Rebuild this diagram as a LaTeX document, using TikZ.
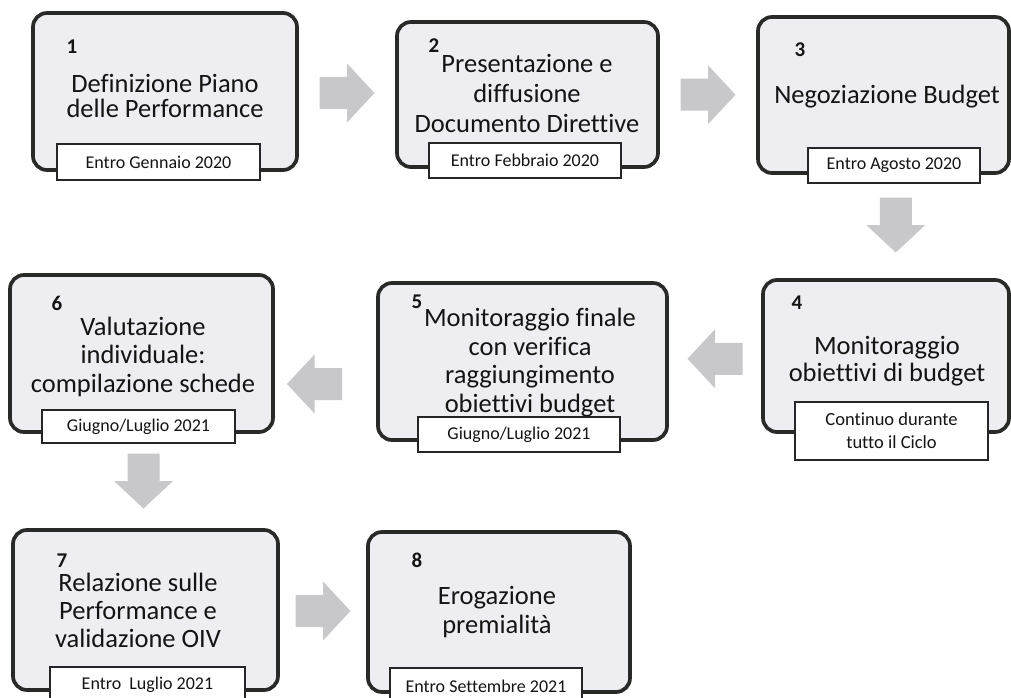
\documentclass[tikz,border=0pt]{standalone}
\usepackage{fontspec}
\setmainfont{Carlito}[Ligatures=NoCommon]
\usetikzlibrary{calc}
\definecolor{boxfill}{RGB}{238,238,242}
\definecolor{boxline}{RGB}{40,42,40}
\definecolor{arrowfill}{RGB}{200,200,203}
\definecolor{txt}{RGB}{20,20,20}
\tikzset{
  stage/.style={draw=boxline, line width=3.7pt, fill=boxfill, rounded corners=14pt, inner sep=0pt},
  datebox/.style={draw=black!85, line width=1.3pt, fill=white, inner sep=0pt, align=center,
    font=\fontsize{18}{21}\selectfont, text=txt},
  maintext/.style={align=center, inner sep=0pt, text=txt},
  stepnum/.style={font=\bfseries\fontsize{21}{21}\selectfont, text=txt, inner sep=0pt},
  pics/blockarrow/.style={code={
    \fill[arrowfill] (-27.5,-16)--(0,-16)--(0,-29.5)--(27.5,0)--(0,29.5)--(0,16)--(-27.5,16)--cycle;}}
}
\begin{document}
\begin{tikzpicture}[x=1pt,y=1pt]
\fill[white] (0,0) rectangle (1011,-698);
\useasboundingbox (0,0) rectangle (1011,-698);
\clip (0,0) rectangle (1011,-698);

% stage boxes
\node[stage, minimum width=264pt, minimum height=157pt] (b1) at (165,-91.5) {};
\node[stage, minimum width=261pt, minimum height=145pt] (b2) at (527.5,-94.5) {};
\node[stage, minimum width=251pt, minimum height=156pt] (b3) at (883.5,-95) {};
\node[stage, minimum width=246pt, minimum height=152pt] (b4) at (886,-356) {};
\node[stage, minimum width=289pt, minimum height=157pt] (b5) at (522.5,-361.5) {};
\node[stage, minimum width=263pt, minimum height=157pt] (b6) at (141.5,-353.5) {};
\node[stage, minimum width=265pt, minimum height=160pt] (b7) at (145.5,-610) {};
\node[stage, minimum width=262pt, minimum height=160pt] (b8) at (499,-612) {};

% step numbers
\node[stepnum] (n1) at (72,-47) {1};
\node[stepnum] (n2) at (434,-46) {2};
\node[stepnum] (n3) at (800,-50) {3};
\node[stepnum] (n4) at (797,-303) {4};
\node[stepnum] (n5) at (417,-302) {5};
\node[stepnum] (n6) at (57,-303) {6};
\node[stepnum] (n7) at (62,-561) {7};
\node[stepnum] (n8) at (417,-560) {8};

% main texts
\node[maintext, font=\fontsize{26.5}{25}\selectfont] (t1) at (165,-96) {Definizione Piano\\delle Performance};
\node[maintext, font=\fontsize{26.5}{30}\selectfont] (t2) at (527,-93) {Presentazione e\\diffusione\\Documento Direttive};
\node[maintext, font=\fontsize{26.5}{28}\selectfont] (t3) at (887,-97) {Negoziazione Budget};
\node[maintext, font=\fontsize{26.5}{27}\selectfont] (t4) at (887,-361) {Monitoraggio\\obiettivi di budget};
\node[maintext, font=\fontsize{26.5}{28.5}\selectfont] (t5) at (530,-362.5) {Monitoraggio finale\\con verifica\\raggiungimento\\obiettivi budget};
\node[maintext, font=\fontsize{26.5}{28.5}\selectfont] (t6) at (143,-356.5) {Valutazione\\individuale:\\compilazione schede};
\node[maintext, font=\fontsize{26.5}{28}\selectfont] (t7) at (138,-610) {Relazione sulle\\Performance e\\validazione OIV};
\node[maintext, font=\fontsize{26.5}{29}\selectfont] (t8) at (497,-612.5) {Erogazione\\premialità};

% date boxes
\node[datebox, minimum width=203pt, minimum height=36pt] (l1) at (158.5,-162) {Entro Gennaio 2020};
\node[datebox, minimum width=192pt, minimum height=35pt] (l2) at (525,-160.5) {Entro Febbraio 2020};
\node[datebox, minimum width=172pt, minimum height=35pt] (l3) at (894,-165.5) {Entro Agosto 2020};
\node[datebox, minimum width=193pt, minimum height=58pt, font=\fontsize{18.5}{23}\selectfont] (l4) at (891.5,-431) {Continuo durante\\tutto il Ciclo};
\node[datebox, minimum width=202pt, minimum height=35pt] (l5) at (519,-434.5) {Giugno/Luglio 2021};
\node[datebox, minimum width=193pt, minimum height=33pt] (l6) at (138.5,-426.5) {Giugno/Luglio 2021};
\node[datebox, minimum width=195pt, minimum height=36pt] (l7) at (147.5,-685) {Entro\ \ Luglio 2021};
\node[datebox, minimum width=192pt, minimum height=36pt] (l8) at (486,-686) {Entro Settembre 2021};

% block arrows between stages
\pic at ($(b1.east)!0.5!(b2.west)$) {blockarrow};
\pic at ($(b2.east)!0.5!(b3.west)$) {blockarrow};
\pic[rotate=-90] at ($(b3.south)!0.5!(b4.north)+(11,1.5)$) {blockarrow};
\pic[rotate=180] at ($(b4.west)!0.5!(b5.east)$) {blockarrow};
\pic[rotate=180] at ($(b5.west)!0.5!(b6.east)+(-11,-26.5)$) {blockarrow};
\pic[rotate=-90] at ($(b6.south)!0.5!(b7.north)$) {blockarrow};
\pic at ($(b7.east)!0.5!(b8.west)$) {blockarrow};
\end{tikzpicture}
\end{document}
